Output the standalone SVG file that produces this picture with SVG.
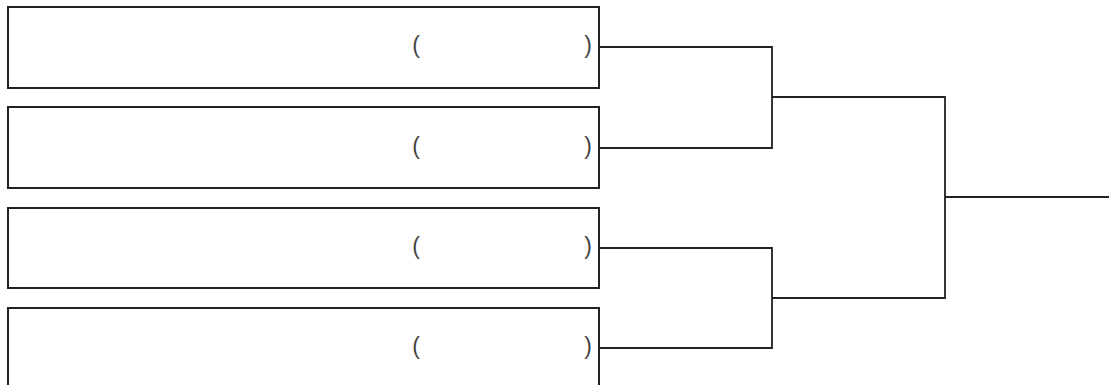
<svg xmlns="http://www.w3.org/2000/svg" width="1109" height="385" viewBox="0 0 1109 385">
<style>
.box{fill:#fff;stroke:#222;stroke-width:2}
.p{font-family:"Liberation Sans",Arial,sans-serif;font-size:23px;fill:#444;text-anchor:middle}
.c{fill:none;stroke:#222;stroke-width:1.8}
</style>
<rect width="1109" height="385" fill="#fff"/>
<g id="n1"><rect class="box" x="8" y="7" width="591" height="81"/><text class="p" x="416" y="53">(</text><text class="p" x="588" y="53">)</text></g>
<g id="n2"><rect class="box" x="8" y="107" width="591" height="81"/><text class="p" x="416" y="154">(</text><text class="p" x="588" y="154">)</text></g>
<g id="n3"><rect class="box" x="8" y="208" width="591" height="80"/><text class="p" x="416" y="254">(</text><text class="p" x="588" y="254">)</text></g>
<g id="n4"><rect class="box" x="8" y="308" width="591" height="82"/><text class="p" x="416" y="354">(</text><text class="p" x="588" y="354">)</text></g>
<g id="connectors">
<path class="c" d="M599 47H772V148H599"/>
<path class="c" d="M772 97H945V298H772"/>
<path class="c" d="M599 248H772V348H599"/>
<path class="c" d="M945 197H1109"/>
</g>
</svg>
